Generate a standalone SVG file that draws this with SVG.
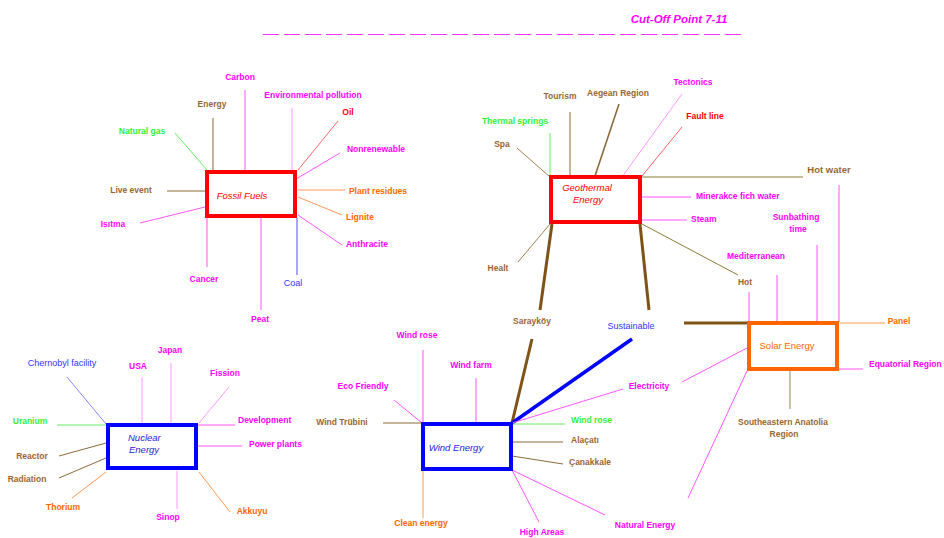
<svg xmlns="http://www.w3.org/2000/svg" width="944" height="538" viewBox="0 0 944 538">
<style>
text{font-family:"Liberation Sans",Arial,sans-serif;font-size:8.5px;font-weight:bold;text-anchor:middle}
.st{text-anchor:start}
.nw{font-weight:normal;font-size:9px}
.m{fill:#ff00ff}.br{fill:#996633}.gr{fill:#33ee33}.or{fill:#ff6600}.rd{fill:#ff0000}.bl{fill:#3333ff}
.box{fill:#fff;stroke-width:4}
.nt{font-size:9.5px;font-style:italic;font-weight:normal}
#connectors line{stroke-width:1}
.lm{stroke:#ff55ff}.llm{stroke:#ff99ff}.lb{stroke:#8b6b3a}.lo{stroke:#8b7d3a}.lg{stroke:#66ee66}.lor{stroke:#ff9955}.lr{stroke:#ff6666}.lbl{stroke:#8888ff}
.thick{stroke:#7f5217;stroke-width:3!important}
</style>
<rect width="944" height="538" fill="#fff"/>
<g id="title">
<text x="679" y="23" style="font-size:11.5px;font-style:italic" class="m">Cut-Off Point 7-11</text>
<line x1="263" y1="34.5" x2="741" y2="34.5" stroke="#ff33ff" stroke-width="1.2" stroke-dasharray="16 5"/>
</g>
<g id="connectors">
<!-- Fossil fuels -->
<line class="lm" x1="245" y1="90" x2="245" y2="170"/>
<line class="lb" x1="213" y1="118" x2="213" y2="170"/>
<line class="llm" x1="292" y1="108" x2="292" y2="170"/>
<line class="lr" x1="338" y1="121" x2="298" y2="170"/>
<line class="lm" x1="340" y1="153" x2="296" y2="179"/>
<line class="lor" x1="298" y1="190" x2="345" y2="190"/>
<line class="lor" x1="298" y1="197" x2="342" y2="215"/>
<line class="lm" x1="298" y1="215" x2="342" y2="245"/>
<line class="lbl" x1="297" y1="218" x2="297" y2="275" style="stroke-width:1.5"/>
<line class="lm" x1="261" y1="218" x2="261" y2="310"/>
<line class="lm" x1="207" y1="218" x2="207" y2="267"/>
<line class="lm" x1="140" y1="223" x2="205" y2="207"/>
<line class="lb" x1="167" y1="191" x2="205" y2="191"/>
<line class="lg" x1="175" y1="133" x2="207" y2="170"/>
<!-- Geothermal -->
<line class="lb" x1="517" y1="148" x2="550" y2="177" style="stroke:#a08050"/>
<line class="lg" x1="550" y1="133" x2="550" y2="177"/>
<line class="lb" x1="570" y1="112" x2="570" y2="177"/>
<line class="lb" x1="619" y1="104" x2="595" y2="176" style="stroke-width:1.6"/>
<line class="llm" x1="682" y1="94" x2="622" y2="177"/>
<line class="lr" x1="682" y1="127" x2="642" y2="176"/>
<line class="lo" x1="642" y1="177" x2="803" y2="177"/>
<line class="lm" x1="641" y1="197" x2="691" y2="197"/>
<line class="lm" x1="642" y1="220" x2="687" y2="220"/>
<line class="lo" x1="642" y1="224" x2="738" y2="275"/>
<line class="lb" x1="518" y1="262" x2="550" y2="224" style="stroke:#a08050"/>
<line class="thick" x1="552" y1="224" x2="540" y2="310"/>
<line class="thick" x1="640" y1="224" x2="649" y2="310"/>
<line class="thick" x1="532" y1="339" x2="512" y2="423"/>
<line x1="632" y1="339" x2="512" y2="423" stroke="#0000ff" style="stroke-width:3.5"/>
<line class="thick" x1="684" y1="323" x2="748" y2="323"/>
<!-- Solar -->
<line class="lm" x1="749" y1="292" x2="749" y2="322"/>
<line class="lm" x1="777" y1="275" x2="777" y2="322"/>
<line class="lm" x1="817" y1="245" x2="817" y2="326"/>
<line class="lm" x1="839" y1="185" x2="839" y2="322"/>
<line class="lor" x1="840" y1="323" x2="885" y2="323"/>
<line class="lm" x1="839" y1="369" x2="863" y2="369"/>
<line class="lo" x1="790" y1="371" x2="790" y2="409" style="stroke:#a08050"/>
<line class="lm" x1="747" y1="348" x2="682" y2="382"/>
<line class="lm" x1="747" y1="371" x2="688" y2="498"/>
<!-- Wind -->
<line class="lm" x1="623" y1="389" x2="512" y2="423"/>
<line class="lm" x1="512" y1="470" x2="605" y2="515"/>
<line class="lm" x1="423" y1="350" x2="423" y2="422"/>
<line class="lm" x1="476" y1="378" x2="476" y2="422"/>
<line class="lm" x1="394" y1="400" x2="422" y2="423"/>
<line class="lb" x1="383" y1="423" x2="421" y2="423"/>
<line class="lg" x1="512" y1="424" x2="565" y2="424"/>
<line class="lb" x1="512" y1="442" x2="563" y2="442"/>
<line class="lb" x1="512" y1="456" x2="563" y2="464"/>
<line class="lm" x1="512" y1="470" x2="539" y2="522"/>
<line class="lor" x1="423" y1="471" x2="423" y2="518"/>
<!-- Nuclear -->
<line class="lbl" x1="67" y1="377" x2="106" y2="424"/>
<line class="llm" x1="142" y1="377" x2="142" y2="423"/>
<line class="llm" x1="171" y1="363" x2="171" y2="423"/>
<line class="llm" x1="229" y1="387" x2="199" y2="423"/>
<line class="lm" x1="198" y1="425" x2="235" y2="425"/>
<line class="lm" x1="198" y1="446" x2="242" y2="446"/>
<line class="lor" x1="199" y1="472" x2="230" y2="512"/>
<line class="llm" x1="177" y1="471" x2="177" y2="509"/>
<line class="lor" x1="72" y1="498" x2="106" y2="472"/>
<line class="lb" x1="59" y1="478" x2="106" y2="458"/>
<line class="lb" x1="59" y1="456" x2="106" y2="443"/>
<line class="lg" x1="57" y1="425" x2="106" y2="425"/>
</g>
<g id="fossil-fuels">
<rect class="box" x="207" y="172" width="88" height="44" stroke="#ff0000"/>
<text class="rd nt" x="242" y="199">Fossil Fuels</text>
</g>
<g id="fossil-labels">
<text class="m" x="240" y="80">Carbon</text>
<text class="br" x="212" y="107">Energy</text>
<text class="m" x="313" y="98">Environmental pollution</text>
<text class="rd" x="348" y="115">Oil</text>
<text class="m" x="376" y="152">Nonrenewable</text>
<text class="or" x="378" y="194">Plant residues</text>
<text class="or" x="360" y="220">Lignite</text>
<text class="m" x="367" y="247">Anthracite</text>
<text class="bl nw" x="293" y="286">Coal</text>
<text class="m" x="260" y="322">Peat</text>
<text class="m" x="204" y="282">Cancer</text>
<text class="m" x="113" y="227">Isıtma</text>
<text class="br" x="131" y="193">Live event</text>
<text class="gr" x="142" y="134">Natural gas</text>
</g>
<g id="geothermal-energy">
<rect class="box" x="551" y="177" width="89" height="45" stroke="#ff0000"/>
<text class="rd nt" x="587" y="191">Geothermal</text>
<text class="rd nt" x="588" y="203">Energy</text>
</g>
<g id="geothermal-labels">
<text class="br" x="502" y="147">Spa</text>
<text class="gr" x="515" y="124">Thermal springs</text>
<text class="br" x="560" y="99">Tourism</text>
<text class="br" x="618" y="96">Aegean Region</text>
<text class="m" x="693" y="85">Tectonics</text>
<text class="rd" x="705" y="119">Fault line</text>
<text class="br" x="829" y="173" style="font-size:9.5px">Hot water</text>
<text class="m st" x="696" y="199">Minerakce fich water</text>
<text class="m st" x="691" y="222">Steam</text>
<text class="br" x="745" y="285">Hot</text>
<text class="br" x="498" y="271">Healt</text>
<text class="br" x="532" y="324">Sarayköy</text>
<text class="bl nw" x="631" y="329">Sustainable</text>
</g>
<g id="solar-energy">
<rect class="box" x="749" y="323" width="88" height="46" stroke="#ff6600"/>
<text class="or" x="787" y="349" style="font-weight:normal;font-size:9.5px">Solar Energy</text>
</g>
<g id="solar-labels">
<text class="m" x="756" y="259">Mediterranean</text>
<text class="m" x="796" y="220">Sunbathing</text>
<text class="m" x="798" y="232">time</text>
<text class="or" x="899" y="324">Panel</text>
<text class="m st" x="869" y="367">Equatorial Region</text>
<text class="br" x="783" y="425">Southeastern Anatolia</text>
<text class="br" x="784" y="437">Region</text>
<text class="m" x="649" y="389">Electricity</text>
<text class="m" x="645" y="528">Natural Energy</text>
</g>
<g id="wind-energy">
<rect class="box" x="423" y="424" width="88" height="45" stroke="#0000ff"/>
<text class="bl nt" x="456" y="451" style="fill:#2222dd">Wind Energy</text>
</g>
<g id="wind-labels">
<text class="m" x="417" y="338">Wind rose</text>
<text class="m" x="471" y="368">Wind farm</text>
<text class="m" x="363" y="389">Eco Friendly</text>
<text class="br" x="342" y="425">Wind Trübini</text>
<text class="gr st" x="571" y="423">Wind rose</text>
<text class="br st" x="571" y="443">Alaçatı</text>
<text class="br st" x="569" y="465">Çanakkale</text>
<text class="m" x="542" y="535">High Areas</text>
<text class="or" x="421" y="526">Clean energy</text>
</g>
<g id="nuclear-energy">
<rect class="box" x="108" y="425" width="88" height="43" stroke="#0000ff"/>
<text class="nt st" x="128" y="441" style="fill:#2222dd">Nuclear</text>
<text class="nt st" x="129" y="453" style="fill:#2222dd">Energy</text>
</g>
<g id="nuclear-labels">
<text class="bl nw" x="62" y="366">Chernobyl facility</text>
<text class="m" x="138" y="369">USA</text>
<text class="m" x="170" y="353">Japan</text>
<text class="m" x="225" y="376">Fission</text>
<text class="m st" x="238" y="423">Development</text>
<text class="m st" x="249" y="447">Power plants</text>
<text class="or" x="252" y="514">Akkuyu</text>
<text class="m" x="168" y="520">Sinop</text>
<text class="or" x="63" y="510">Thorium</text>
<text class="br" x="27" y="482">Radiation</text>
<text class="br" x="32" y="459">Reactor</text>
<text class="gr" x="30" y="424">Uranium</text>
</g>
</svg>
